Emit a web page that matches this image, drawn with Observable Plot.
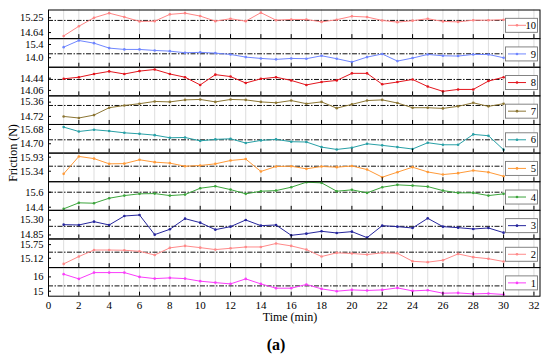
<!DOCTYPE html>
<html><head><meta charset="utf-8">
<script src="https://cdn.jsdelivr.net/npm/d3@7"></script>
<script src="https://cdn.jsdelivr.net/npm/@observablehq/plot@0.6"></script>
<style>
body{margin:0;background:#fff;}
#chart{position:relative;width:550px;height:357px;font-family:"Liberation Serif",serif;}
#chart svg{position:absolute;left:0;top:0;overflow:visible;}
</style></head><body><div id="chart"></div>
<script>
// ---- data ----
const time = [1,2,3,4,5,6,7,8,9,10,11,12,13,14,15,16,17,18,19,20,21,22,23,24,25,26,27,28,29,30];
const xTicks = [0,2,4,6,8,10,12,14,16,18,20,22,24,26,28,30,32];
const gridTicks = [1,2,3,4,5,6,7,8,9,10,11,12,13,14,15,16,17,18,19,20,21,22,23,24,25,26,27,28,29,30,31,32];

const f10 = [14.50,14.90,15.25,15.44,15.28,15.10,15.11,15.39,15.44,15.32,15.11,15.21,15.11,15.46,15.15,15.18,15.18,15.08,15.17,15.31,15.28,15.14,15.07,15.13,15.21,15.10,15.08,15.15,15.15,15.17];
const f9  = [15.12,15.82,15.54,15.02,14.88,14.88,14.77,14.70,14.53,14.57,14.49,14.35,14.07,13.93,13.83,13.93,13.90,14.21,13.90,13.55,14.07,14.40,13.65,13.97,14.35,14.21,14.18,14.35,14.35,14.00];
const f8  = [14.42,14.47,14.57,14.65,14.57,14.66,14.71,14.57,14.47,14.23,14.55,14.49,14.29,14.42,14.47,14.37,14.23,14.32,14.37,14.59,14.59,14.25,14.32,14.40,14.18,14.03,14.09,14.09,14.35,14.47];
const f7  = [14.72,14.65,14.78,15.11,15.21,15.29,15.39,15.37,15.46,15.48,15.37,15.48,15.46,15.37,15.33,15.43,15.29,15.37,15.09,15.26,15.43,15.46,15.32,15.11,15.11,15.08,15.17,15.33,15.17,15.29];
const f6  = [15.84,15.54,15.66,15.57,15.45,15.38,15.29,15.11,15.13,14.90,15.00,15.04,14.75,14.93,15.00,14.84,14.82,14.47,14.31,14.43,14.70,14.59,14.47,14.34,14.77,14.63,14.63,15.34,15.25,14.29];
const f5  = [15.23,15.96,15.87,15.65,15.66,15.82,15.72,15.68,15.55,15.58,15.65,15.79,15.85,15.33,15.54,15.55,15.44,15.54,15.51,15.56,15.41,15.09,15.30,15.51,15.31,15.20,15.26,15.37,15.30,15.13];
const f4  = [14.27,14.75,14.72,15.12,15.33,15.47,15.49,15.33,15.41,15.92,16.08,15.81,15.47,15.68,15.73,16.00,16.40,16.35,15.68,15.79,15.55,16.00,16.19,16.13,16.05,15.73,15.55,15.55,15.33,15.47];
const f3  = [15.16,15.15,15.25,15.15,15.42,15.45,14.86,15.02,15.34,15.22,15.01,15.10,15.30,15.13,15.15,14.84,14.89,14.96,14.91,14.95,14.77,15.13,15.10,15.06,15.35,15.10,15.07,15.03,15.06,14.92];
const f2  = [14.86,15.20,15.50,15.50,15.49,15.44,15.27,15.60,15.69,15.61,15.52,15.58,15.64,15.64,15.80,15.69,15.52,15.20,15.37,15.34,15.29,15.37,15.35,14.98,14.94,15.03,15.32,15.17,15.10,14.97];
const f1  = [16.19,15.86,16.30,16.30,16.30,16.00,15.88,15.93,15.88,15.70,15.60,15.51,15.86,15.51,15.21,15.21,15.47,15.16,15.00,15.09,15.05,15.09,15.23,15.02,15.07,14.86,14.88,14.81,14.84,14.77];

// panels listed top to bottom
const seriesLabels = ["10","9","8","7","6","5","4","3","2","1"];
const seriesValues = [f10,f9,f8,f7,f6,f5,f4,f3,f2,f1];
const refValues    = [15.14,14.42,14.40,15.21,14.97,15.55,15.60,15.11,15.40,15.37];
const yTickLabels  = [["15.25","14.64"],["15.4","14.0"],["14.44","14.06"],["15.36","14.72"],["15.68","14.70"],
                      ["15.93","15.34"],["15.6","14.4"],["15.30","14.85"],["15.75","15.12"],["16","15"]];
const yDomains     = [[14.39,15.57],[13.0,16.02],[13.89,14.78],[14.36,15.64],[14.06,16.02],
                      [14.90,16.10],[14.15,16.44],[14.73,15.59],[14.69,16.01],[14.65,16.65]];
const colors       = ["#ff8585","#6f86ff","#e3161e","#8c7634","#28a0a6","#ff9a38","#3ca53c","#25259c","#ff8a8a","#fb3cfb"];

// ---- layout ----
const W = 550, H = 357;
const left = 48, right = 539.5, top0 = 9.5, ph = 28.62;
const xDomain = [0, 32.4];
const font = '"Liberation Serif", serif';
const chart = document.getElementById("chart");

seriesValues.forEach((vals, k) => {
  const top = top0 + k * ph;
  const data = time.map((t, i) => ({t, v: vals[i]}));
  const labels = yTickLabels[k];
  const isLast = k === seriesValues.length - 1;
  const marks = [
    Plot.gridX(gridTicks, {stroke: "#d4d4d4", strokeOpacity: 1, strokeWidth: 0.8}),
    Plot.ruleY([refValues[k]], {x1: xDomain[0], x2: d3.max(time), stroke: "#111", strokeWidth: 1, strokeDasharray: "5,1.5,1.5,1.5"}),
    Plot.line(data, {x: "t", y: "v", stroke: colors[k], strokeWidth: 1}),
    Plot.dot(data, {x: "t", y: "v", fill: colors[k], r: 1.3}),
    Plot.axisY(labels.map(Number), {tickSize: -3, tickPadding: 8, tickFormat: (d, i) => labels[i], label: null, fontSize: 10.5}),
    Plot.axisX(xTicks, {tickSize: -4, tickFormat: () => "", label: null}),
    Plot.frame({stroke: "#000", strokeWidth: 1})
  ];
  if (isLast) marks.push(Plot.axisX(xTicks, {tickSize: 0, tickPadding: 5, label: null, fontSize: 11}));
  const svg = Plot.plot({
    width: W, height: H,
    marginLeft: left, marginRight: W - right,
    marginTop: top, marginBottom: H - top - ph,
    x: {domain: xDomain},
    y: {domain: yDomains[k]},
    style: {fontFamily: font, fontSize: "10.5px", color: "#000", background: "transparent", overflow: "visible"},
    marks
  });
  // legend box
  const cy = top + ph / 2 + 1.5;
  const g = d3.select(svg).append("g");
  g.append("rect").attr("x", 505.5).attr("y", cy - 7).attr("width", 32).attr("height", 14)
    .attr("fill", "#fff").attr("stroke", "#777").attr("stroke-width", 0.9);
  g.append("line").attr("x1", 508).attr("x2", 526).attr("y1", cy).attr("y2", cy)
    .attr("stroke", colors[k]).attr("stroke-width", 1);
  g.append("circle").attr("cx", 517).attr("cy", cy).attr("r", 1.3).attr("fill", colors[k]);
  g.append("text").attr("x", 536).attr("y", cy).attr("dy", "0.35em").attr("text-anchor", "end")
    .attr("font-family", font).attr("font-size", 10.5).text(seriesLabels[k]);
  chart.appendChild(svg);
});

// overlay texts
const ov = d3.select(chart).append("svg").attr("width", W).attr("height", H)
  .style("font-family", font);
ov.append("text").attr("transform", "translate(13,153) rotate(-90)").attr("text-anchor", "middle")
  .attr("dy", "0.35em").attr("font-size", 12).text("Friction (N)");
ov.append("text").attr("x", 290).attr("y", 317).attr("dy", "0.35em").attr("text-anchor", "middle")
  .attr("font-size", 12).text("Time (min)");
ov.append("text").attr("x", 276).attr("y", 344).attr("dy", "0.35em").attr("text-anchor", "middle")
  .attr("font-size", 16).attr("font-weight", "bold").text("(a)");
</script></body></html>
